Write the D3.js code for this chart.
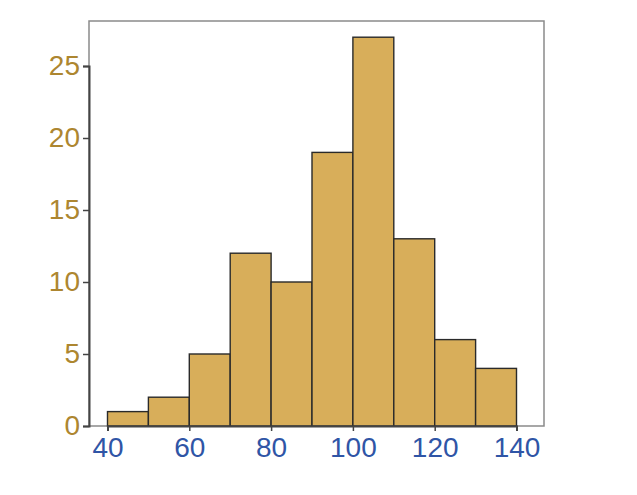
<!DOCTYPE html>
<html><head><meta charset="utf-8">
<script src="https://cdn.jsdelivr.net/npm/d3@7"></script>
<style>body{margin:0;background:#fff}svg{display:block}</style>
</head><body>
<script>
const binStarts = [40, 50, 60, 70, 80, 90, 100, 110, 120, 130];
const binWidth = 10;
const counts = [1, 2, 5, 12, 10, 19, 27, 13, 6, 4];
const xTicks = [40, 60, 80, 100, 120, 140];
const yTicks = [0, 5, 10, 15, 20, 25];

const W = 637, H = 495;
const svg = d3.select("body").append("svg").attr("width", W).attr("height", H);

const x = d3.scaleLinear().domain([40, 140]).range([107.5, 516.5]);
const y = d3.scaleLinear().domain([0, 25]).range([426, 66]);

// panel border
svg.append("rect").attr("x", 89).attr("y", 21).attr("width", 455).attr("height", 405)
  .attr("fill", "none").attr("stroke", "#8a8a8a").attr("stroke-width", 1.5);

// bars
svg.append("g").selectAll("rect").data(binStarts).join("rect")
  .attr("x", d => x(d))
  .attr("y", (d, i) => y(counts[i]))
  .attr("width", d => x(d + binWidth) - x(d))
  .attr("height", (d, i) => y(0) - y(counts[i]))
  .attr("fill", "#d8ae5a").attr("stroke", "#2a2a2a").attr("stroke-width", 1.4);

const font = "Liberation Sans, Arial, sans-serif";

// y axis
const yAxis = svg.append("g").attr("transform", "translate(89,0)")
  .call(d3.axisLeft(y).tickValues(yTicks).tickSize(6).tickPadding(3));
yAxis.select(".domain").attr("stroke", "#444").attr("stroke-width", 2);
yAxis.selectAll(".tick line").attr("stroke", "#444").attr("stroke-width", 1.5);
yAxis.selectAll("text").attr("fill", "#ad8630").style("font-family", font).style("font-size", "28px");

// x axis
const xAxis = svg.append("g").attr("transform", "translate(0,426)")
  .call(d3.axisBottom(x).tickValues(xTicks).tickSize(5).tickPadding(6));
xAxis.select(".domain").attr("stroke", "#444").attr("stroke-width", 2);
xAxis.selectAll(".tick line").attr("stroke", "#444").attr("stroke-width", 1.5);
xAxis.selectAll("text").attr("fill", "#2f55a6").style("font-family", font).style("font-size", "28px");
</script>
</body></html>
